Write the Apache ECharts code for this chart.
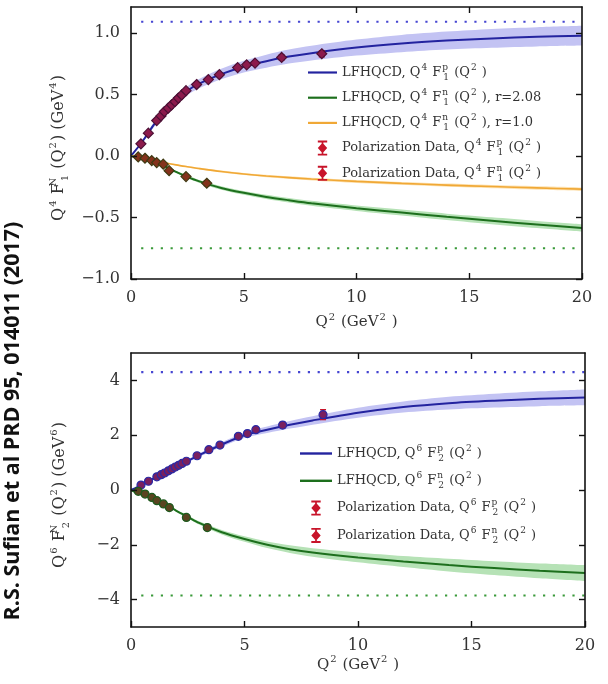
<!DOCTYPE html>
<html>
<head>
<meta charset="utf-8">
<script src="https://cdn.jsdelivr.net/npm/echarts@6/dist/echarts.min.js"></script>
<style>
  html, body { margin: 0; padding: 0; background: #ffffff; }
  #chart { width: 608px; height: 684px; }
</style>
</head>
<body>
<div id="chart"></div>
<script>
// ---------- Data ----------
// Q² grid (GeV²) on which the LFHQCD model curves are tabulated
const q2Grid = [0, 0.5, 1, 1.5, 2, 2.5, 3, 4, 5, 6, 7, 8, 10, 12, 14, 16, 18, 20];

// Panel 1: Q⁴ F1 (GeV⁴)
const f1pModel = [0, 0.115, 0.25, 0.36, 0.45, 0.53, 0.585, 0.665, 0.725, 0.77, 0.807, 0.835, 0.88, 0.913, 0.937, 0.955, 0.968, 0.977];
const f1pLow   = [0, 0.105, 0.23, 0.335, 0.42, 0.495, 0.547, 0.622, 0.677, 0.717, 0.75, 0.775, 0.815, 0.843, 0.864, 0.879, 0.89, 0.897];
const f1pHigh  = [0, 0.125, 0.27, 0.385, 0.48, 0.565, 0.623, 0.708, 0.773, 0.823, 0.864, 0.895, 0.945, 0.983, 1.01, 1.031, 1.046, 1.057];

const f1nModelR208 = [0, -0.02, -0.045, -0.085, -0.13, -0.17, -0.205, -0.26, -0.3, -0.333, -0.36, -0.385, -0.425, -0.46, -0.495, -0.527, -0.557, -0.585];
const f1nLowR208   = [0, -0.022, -0.049, -0.091, -0.138, -0.18, -0.217, -0.274, -0.316, -0.351, -0.379, -0.405, -0.447, -0.484, -0.521, -0.555, -0.586, -0.615];
const f1nHighR208  = [0, -0.018, -0.041, -0.079, -0.122, -0.16, -0.193, -0.246, -0.284, -0.315, -0.341, -0.365, -0.403, -0.436, -0.469, -0.499, -0.528, -0.555];

const f1nModelR10 = [0, -0.015, -0.035, -0.055, -0.073, -0.088, -0.102, -0.127, -0.147, -0.163, -0.176, -0.188, -0.207, -0.223, -0.237, -0.249, -0.26, -0.27];
const f1nLowR10   = [0, -0.017, -0.038, -0.059, -0.078, -0.094, -0.109, -0.135, -0.156, -0.173, -0.186, -0.199, -0.219, -0.235, -0.25, -0.262, -0.274, -0.284];
const f1nHighR10  = [0, -0.013, -0.032, -0.051, -0.068, -0.082, -0.095, -0.119, -0.138, -0.153, -0.166, -0.177, -0.195, -0.211, -0.224, -0.236, -0.246, -0.256];

const f1pLimit = 1.09;
const f1nLimit = -0.75;

// Panel 2: Q⁶ F2 (GeV⁶)
const f2pModel = [0, 0.2, 0.42, 0.63, 0.85, 1.06, 1.27, 1.66, 2.0, 2.2, 2.38, 2.54, 2.82, 3.03, 3.17, 3.26, 3.33, 3.38];
const f2pLow   = [0, 0.19, 0.4, 0.6, 0.81, 1.01, 1.21, 1.58, 1.9, 2.08, 2.24, 2.385, 2.64, 2.83, 2.94, 3.01, 3.06, 3.09];
const f2pHigh  = [0, 0.21, 0.44, 0.66, 0.89, 1.11, 1.33, 1.74, 2.1, 2.32, 2.52, 2.695, 3.0, 3.23, 3.4, 3.51, 3.6, 3.67];

const f2nModel = [0, -0.18, -0.33, -0.53, -0.76, -0.98, -1.2, -1.54, -1.79, -2.0, -2.16, -2.28, -2.46, -2.61, -2.74, -2.85, -2.95, -3.03];
const f2nLow   = [0, -0.19, -0.35, -0.56, -0.8, -1.03, -1.26, -1.62, -1.89, -2.12, -2.3, -2.435, -2.64, -2.81, -2.97, -3.1, -3.22, -3.32];
const f2nHigh  = [0, -0.17, -0.31, -0.5, -0.72, -0.93, -1.14, -1.46, -1.69, -1.88, -2.02, -2.125, -2.28, -2.41, -2.51, -2.6, -2.68, -2.74];

const f2pLimit = 4.3;
const f2nLimit = -3.85;

// Polarization data points
const protonQ2 = [0.44, 0.77, 1.14, 1.33, 1.48, 1.65, 1.80, 1.95, 2.10, 2.25, 2.44, 2.91, 3.43, 3.92, 4.73, 5.13, 5.5, 6.68, 8.46];
const f1pData  = [0.098, 0.185, 0.287, 0.325, 0.36, 0.388, 0.415, 0.44, 0.47, 0.496, 0.53, 0.58, 0.62, 0.66, 0.718, 0.74, 0.754, 0.80, 0.83];
const f1pErr   = [0.005, 0.006, 0.008, 0.008, 0.008, 0.009, 0.009, 0.01, 0.01, 0.01, 0.011, 0.012, 0.013, 0.014, 0.016, 0.017, 0.018, 0.02, 0.025];
const f2pData  = [0.18, 0.32, 0.48, 0.56, 0.62, 0.70, 0.77, 0.84, 0.90, 0.97, 1.05, 1.25, 1.47, 1.64, 1.96, 2.06, 2.2, 2.37, 2.75];
const f2pErr   = [0.01, 0.015, 0.02, 0.02, 0.02, 0.025, 0.025, 0.03, 0.03, 0.03, 0.035, 0.04, 0.045, 0.05, 0.06, 0.065, 0.07, 0.1, 0.18];

const neutronQ2 = [0.32, 0.62, 0.92, 1.14, 1.43, 1.69, 2.44, 3.36];
const f1nData   = [-0.008, -0.019, -0.038, -0.054, -0.067, -0.12, -0.168, -0.222];
const f1nErr    = [0.005, 0.006, 0.007, 0.008, 0.01, 0.012, 0.015, 0.02];
const f2nData   = [-0.05, -0.15, -0.27, -0.39, -0.51, -0.64, -1.0, -1.37];
const f2nErr    = [0.01, 0.02, 0.03, 0.03, 0.04, 0.05, 0.07, 0.09];

// Axis ticks
const xTicks = [0, 5, 10, 15, 20];
const xInnerTicks = [5, 10, 15];
const y1Ticks = [-1.0, -0.5, 0.0, 0.5, 1.0];
const y2Ticks = [-4, -2, 0, 2, 4];

// Legend labels
const L1p  = 'LFHQCD, Q⁴ F₁ᵖ (Q²)';
const L1n1 = 'LFHQCD, Q⁴ F₁ⁿ (Q²), r=2.08';
const L1n2 = 'LFHQCD, Q⁴ F₁ⁿ (Q²), r=1.0';
const D1p  = 'Polarization Data, Q⁴ F₁ᵖ (Q²)';
const D1n  = 'Polarization Data, Q⁴ F₁ⁿ (Q²)';
const L2p  = 'LFHQCD, Q⁶ F₂ᵖ (Q²)';
const L2n  = 'LFHQCD, Q⁶ F₂ⁿ (Q²)';
const D2p  = 'Polarization Data, Q⁶ F₂ᵖ (Q²)';
const D2n  = 'Polarization Data, Q⁶ F₂ⁿ (Q²)';

// ---------- Styling ----------
const SERIF = 'DejaVu Serif';
const BLUE = '#23239f', BLUE_BAND = '#c3c3f3', BLUE_DOT = '#4646d2';
const GREEN = '#1d6f1d', GREEN_BAND = '#b6e2b6', GREEN_DOT = '#3a9a3a';
const ORANGE = '#f0a836', ORANGE_BAND = '#fde3b4';
const PAPER = '#ffffff';
const ERR = '#c8142a';

// rich-text fragments for math-like labels
function mathLabel(parts) {
  return parts.map(p => '{' + p[0] + '|' + p[1] + '}').join('');
}
// Q^a F^b_c (Q^2 ) with stacked sup/sub on F
function formLabel(prefix, qPow, sup, sub, suffix) {
  return mathLabel([['t', prefix + 'Q'], ['sp', qPow], ['t', ' F'], ['spz', sup], ['sb', sub], ['t', ' (Q'], ['sp', '2'], ['t', ' )' + suffix]]);
}
const legendText = {};
legendText[L1p]  = formLabel('LFHQCD, ', '4', 'p', '1', '');
legendText[L1n1] = formLabel('LFHQCD, ', '4', 'n', '1', ', r=2.08');
legendText[L1n2] = formLabel('LFHQCD, ', '4', 'n', '1', ', r=1.0');
legendText[D1p]  = formLabel('Polarization Data, ', '4', 'p', '1', '');
legendText[D1n]  = formLabel('Polarization Data, ', '4', 'n', '1', '');
legendText[L2p]  = formLabel('LFHQCD, ', '6', 'p', '2', '');
legendText[L2n]  = formLabel('LFHQCD, ', '6', 'n', '2', '');
legendText[D2p]  = formLabel('Polarization Data, ', '6', 'p', '2', '');
legendText[D2n]  = formLabel('Polarization Data, ', '6', 'n', '2', '');

function richSet(size, small) {
  return {
    t:   { fontFamily: SERIF, fontSize: size, color: '#333', lineHeight: size + 6, verticalAlign: 'middle' },
    sp:  { fontFamily: SERIF, fontSize: small, color: '#333', lineHeight: small, verticalAlign: 'top', padding: [0, 1, 0, 1] },
    spz: { fontFamily: SERIF, fontSize: small, color: '#333', lineHeight: small, verticalAlign: 'top', width: 0, padding: [0, 0, 0, 1] },
    sb:  { fontFamily: SERIF, fontSize: small, color: '#333', lineHeight: small, verticalAlign: 'bottom', padding: [0, 1, 0, 1] }
  };
}

// Legend icons: model line, and error bar with diamond marker
const lineIcon = 'path://M0,0H40V3H0Z';
const errIcon = 'path://M0,0H10V2H0Z M0,14H10V16H0Z M4.1,0H5.9V16H4.1Z M5,2.4L10,8L5,13.6L0,8Z';

const minusFmt = d => v => (v < 0 ? '\u2212' : '') + Math.abs(v).toFixed(d);

// ---------- Series builders ----------
function pairs(xs, ys) { return xs.map((x, i) => [x, ys[i]]); }

// Band edge filled towards zero; the outer edge is painted in the band colour,
// the inner edge is then painted in the paper colour, leaving the band between them.
function bandEdge(gi, ys, color) {
  return { type: 'line', xAxisIndex: gi * 2, yAxisIndex: gi * 2,
    data: pairs(q2Grid, ys), smooth: 0.3, symbol: 'none', silent: true,
    lineStyle: { width: 0, opacity: 0 }, areaStyle: { color: color, opacity: 1 }, z: 1 };
}

function model(name, gi, ys, color, width) {
  return { type: 'line', name: name, xAxisIndex: gi * 2, yAxisIndex: gi * 2,
    data: pairs(q2Grid, ys), smooth: 0.3, symbol: 'none',
    itemStyle: { color: color }, lineStyle: { color: color, width: width }, z: 3 };
}

function limitLine(gi, value, color) {
  return { type: 'line', xAxisIndex: gi * 2, yAxisIndex: gi * 2,
    data: [[0.45, value], [20, value]], symbol: 'none', silent: true,
    lineStyle: { color: color, width: 2.2, type: [2.2, 7.6] }, z: 2 };
}

function errorBars(gi, xs, ys, es) {
  return { type: 'custom', xAxisIndex: gi * 2, yAxisIndex: gi * 2,
    data: xs.map((x, i) => [x, ys[i], es[i]]), encode: { x: 0, y: 1 }, silent: true, z: 4,
    renderItem: function (params, api) {
      const x = api.value(0), y = api.value(1), e = api.value(2);
      const top = api.coord([x, y + e]), bot = api.coord([x, y - e]);
      const h = 3, st = { stroke: ERR, lineWidth: 1.4 };
      return { type: 'group', children: [
        { type: 'line', shape: { x1: top[0], y1: top[1], x2: bot[0], y2: bot[1] }, style: st },
        { type: 'line', shape: { x1: top[0] - h, y1: top[1], x2: top[0] + h, y2: top[1] }, style: st },
        { type: 'line', shape: { x1: bot[0] - h, y1: bot[1], x2: bot[0] + h, y2: bot[1] }, style: st }
      ] };
    } };
}

function points(name, gi, xs, ys, symbol, size, fill, edge) {
  return { type: 'scatter', name: name, xAxisIndex: gi * 2, yAxisIndex: gi * 2,
    data: pairs(xs, ys), symbol: symbol, symbolSize: size,
    itemStyle: { color: fill, borderColor: edge, borderWidth: 1.2, opacity: 1 }, z: 5 };
}

// ---------- Axes ----------
const axisLineStyle = { show: true, onZero: false, lineStyle: { color: '#111', width: 1.6 } };
const tickStyle = { length: 6, lineStyle: { color: '#111', width: 1.4 } };
const labelStyle = { fontFamily: SERIF, fontSize: 16, color: '#333' };

function xAxes(gi, nameGap) {
  return [
    { type: 'value', gridIndex: gi, min: 0, max: 20, position: 'bottom', z: 10,
      axisLine: axisLineStyle, splitLine: { show: false },
      axisTick: Object.assign({ inside: true, customValues: xTicks }, tickStyle),
      axisLabel: Object.assign({ margin: 11, customValues: xTicks, formatter: v => String(v) }, labelStyle),
      name: mathLabel([['t', 'Q'], ['sp', '2'], ['t', ' (GeV'], ['sp', '2'], ['t', ' )']]),
      nameLocation: 'middle', nameGap: nameGap, nameTextStyle: { rich: richSet(15, 10) } },
    { type: 'value', gridIndex: gi, min: 0, max: 20, position: 'top', z: 10,
      axisLine: axisLineStyle, splitLine: { show: false },
      axisTick: Object.assign({ inside: true, customValues: xInnerTicks }, tickStyle),
      axisLabel: { show: false } }
  ];
}

function yAxes(gi, min, max, ticks, fmt, nameParts, nameGap) {
  return [
    { type: 'value', gridIndex: gi, min: min, max: max, position: 'left', z: 10,
      axisLine: axisLineStyle, splitLine: { show: false },
      axisTick: Object.assign({ inside: true, customValues: ticks }, tickStyle),
      axisLabel: Object.assign({ margin: 11, customValues: ticks, formatter: fmt }, labelStyle),
      name: mathLabel(nameParts), nameLocation: 'middle', nameRotate: 90, nameGap: nameGap,
      nameTextStyle: { rich: richSet(16, 10), padding: [0, 10, 0, 0] } },
    { type: 'value', gridIndex: gi, min: min, max: max, position: 'right', z: 10,
      axisLine: axisLineStyle, splitLine: { show: false },
      axisTick: Object.assign({ inside: true, customValues: ticks }, tickStyle),
      axisLabel: { show: false } }
  ];
}

const y1Name = [['t', 'Q'], ['sp', '4'], ['t', ' F'], ['spz', 'N'], ['sb', '1'], ['t', ' (Q'], ['sp', '2'], ['t', ') (GeV'], ['sp', '4'], ['t', ')']];
const y2Name = [['t', 'Q'], ['sp', '6'], ['t', ' F'], ['spz', 'N'], ['sb', '2'], ['t', ' (Q'], ['sp', '2'], ['t', ') (GeV'], ['sp', '6'], ['t', ')']];

// ---------- Legends ----------
function legend(left, top, gap, names, dataNames, width) {
  return {
    orient: 'vertical', left: left, top: top, itemGap: gap,
    itemWidth: width, itemHeight: 15,
    data: names.map(n => dataNames.indexOf(n) >= 0
      ? { name: n, icon: errIcon, itemStyle: { color: ERR, borderWidth: 0 } }
      : { name: n, icon: lineIcon }),
    formatter: n => legendText[n],
    textStyle: { rich: richSet(13, 9) },
    selectedMode: false
  };
}

// ---------- Chart ----------
const chart = echarts.init(document.getElementById('chart'), null, { renderer: 'canvas' });

const option = {
  animation: false,
  backgroundColor: PAPER,
  grid: [
    { left: 131, top: 7, width: 451, height: 272 },
    { left: 131, top: 353, width: 454, height: 274 }
  ],
  xAxis: xAxes(0, 33).concat(xAxes(1, 26)),
  yAxis: yAxes(0, -1.0, 1.21, y1Ticks, minusFmt(1), y1Name, 61)
    .concat(yAxes(1, -5, 5, y2Ticks, minusFmt(0), y2Name, 60)),
  legend: [
    legend(303, 58, 6.2, [L1p, L1n1, L1n2, D1p, D1n], [D1p, D1n], 29),
    legend(295, 439, 8.3, [L2p, L2n, D2p, D2n], [D2p, D2n], 32)
  ],
  graphic: [
    { type: 'text', x: 13, y: 421, rotation: Math.PI / 2,
      style: { text: 'R.S. Sufian et al PRD 95, 014011 (2017)', fill: '#111',
        font: 'bold 21.5px "Open Sans"', align: 'center', verticalAlign: 'middle' } }
  ],
  series: [
    // top panel: uncertainty bands (outer edge first, inner edge after)
    bandEdge(0, f1pHigh, BLUE_BAND),
    bandEdge(0, f1pLow, PAPER),
    bandEdge(0, f1nLowR208, GREEN_BAND),
    bandEdge(0, f1nHighR208, PAPER),
    bandEdge(0, f1nLowR10, ORANGE_BAND),
    bandEdge(0, f1nHighR10, PAPER),
    limitLine(0, f1pLimit, BLUE_DOT),
    limitLine(0, f1nLimit, GREEN_DOT),
    model(L1p, 0, f1pModel, BLUE, 2),
    model(L1n1, 0, f1nModelR208, GREEN, 2),
    model(L1n2, 0, f1nModelR10, ORANGE, 1.6),
    errorBars(0, protonQ2, f1pData, f1pErr),
    errorBars(0, neutronQ2, f1nData, f1nErr),
    points(D1p, 0, protonQ2, f1pData, 'diamond', 10, '#8c1a4c', '#4d1035'),
    points(D1n, 0, neutronQ2, f1nData, 'diamond', 10, '#84321c', '#3e3a12'),
    // bottom panel
    bandEdge(1, f2pHigh, BLUE_BAND),
    bandEdge(1, f2pLow, PAPER),
    bandEdge(1, f2nLow, GREEN_BAND),
    bandEdge(1, f2nHigh, PAPER),
    limitLine(1, f2pLimit, BLUE_DOT),
    limitLine(1, f2nLimit, GREEN_DOT),
    model(L2p, 1, f2pModel, BLUE, 2),
    model(L2n, 1, f2nModel, GREEN, 2),
    errorBars(1, protonQ2, f2pData, f2pErr),
    errorBars(1, neutronQ2, f2nData, f2nErr),
    points(D2p, 1, protonQ2, f2pData, 'circle', 8, '#7a1f5e', '#2a2aa6'),
    points(D2n, 1, neutronQ2, f2nData, 'circle', 8, '#5a4420', '#1e5a1e')
  ]
};

chart.setOption(option);
</script>
</body>
</html>
